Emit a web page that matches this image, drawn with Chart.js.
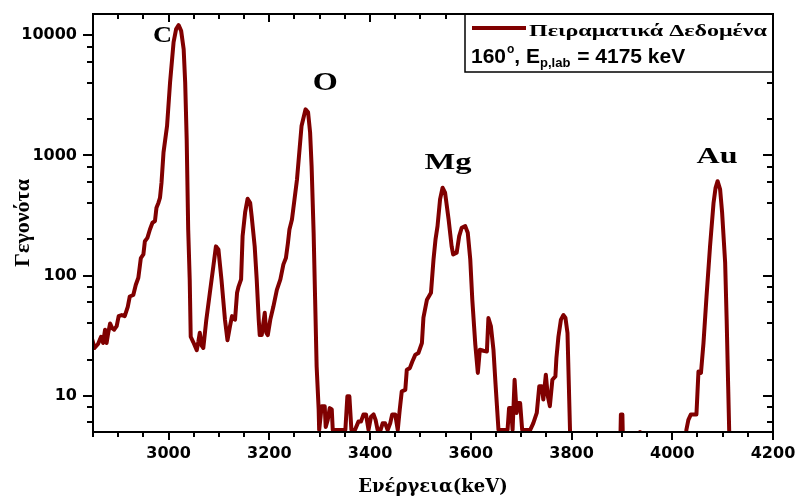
<!DOCTYPE html>
<html>
<head>
<meta charset="utf-8">
<script src="https://cdn.jsdelivr.net/npm/chart.js@4/dist/chart.umd.min.js"></script>
<style>
  body { margin: 0; background: #fff; }
</style>
</head>
<body>
<canvas id="myChart" width="799" height="498"></canvas>
<script>
// spectrum (energy in keV, counts)
const energy = [
  2847, 2853, 2860, 2866, 2870, 2874, 2877, 2880, 2884, 2888, 2892, 2897, 2901, 2907, 2913, 2919,
  2923, 2930, 2935, 2940, 2943, 2945, 2950, 2953, 2958, 2963, 2968, 2973, 2976, 2980, 2983, 2986,
  2990, 2997, 3003, 3010, 3015, 3020, 3025, 3030, 3033, 3036, 3039, 3042, 3044, 3049, 3056, 3059,
  3062, 3066, 3069, 3075, 3082, 3089, 3094, 3099, 3105, 3112, 3117, 3122, 3126, 3132, 3136, 3139,
  3144, 3147, 3152, 3157, 3162, 3165, 3171, 3175, 3179, 3181, 3185, 3191, 3194, 3197, 3202, 3208,
  3215, 3222, 3228, 3233, 3237, 3240, 3245, 3250, 3255, 3264, 3272, 3277, 3281, 3284, 3288, 3291,
  3294, 3298, 3299, 3304, 3310, 3312, 3316, 3320, 3324, 3326, 3337, 3351, 3355, 3359, 3363, 3370,
  3377, 3382, 3387, 3392, 3397, 3402, 3407, 3411, 3415, 3421, 3425, 3430, 3435, 3440, 3444, 3450,
  3455, 3459, 3463, 3470, 3473, 3479, 3484, 3490, 3496, 3503, 3506, 3513, 3521, 3526, 3530, 3534,
  3539, 3544, 3549, 3556, 3562, 3565, 3572, 3577, 3582, 3589, 3594, 3599, 3603, 3609, 3614, 3618,
  3625, 3632, 3635, 3640, 3645, 3649, 3655, 3673, 3676, 3680, 3683, 3687, 3691, 3694, 3698, 3702,
  3718, 3724, 3731, 3736, 3741, 3744, 3749, 3753, 3757, 3762, 3768, 3770, 3774, 3779, 3784, 3788,
  3792, 3797, 3802, 3894, 3898, 3901, 3905, 3930, 3936, 3942, 4022, 4028, 4032, 4037, 4048, 4052,
  4057, 4062, 4068, 4075, 4082, 4086, 4090, 4095, 4099, 4105, 4108, 4111, 4113, 4120, 4200
];
const counts = [
  31, 25, 27, 31, 27.5, 35.5, 27.5, 33, 40, 36.6, 35.5, 38, 46, 47, 46, 55,
  67, 69, 84, 96, 120, 140, 150, 193, 206, 242, 275, 284, 367, 404, 444, 592,
  1059, 1754, 4055, 8750, 11220, 12110, 10860, 7640, 4055, 1359, 242, 93, 31, 28, 24, 28,
  33.5, 26, 25, 43, 72, 120, 175, 165, 93, 43, 29, 38, 46, 43, 72, 81,
  93, 213, 335, 436, 404, 312, 175, 93, 43, 32, 32, 49, 33.5, 32, 43, 55,
  76, 93, 124, 140, 187, 242, 293, 430, 631, 1754, 2416, 2280, 1555, 814, 228, 63,
  17.5, 7.7, 5.2, 8.2, 8.2, 5.5, 6.3, 7.9, 7.7, 5.2, 5.2, 5.2, 9.9, 9.9, 5.2, 5.2,
  6.1, 6.1, 7, 7, 5.2, 6.7, 7, 6.3, 5.2, 5.2, 5.9, 5.9, 5.2, 5.9, 7, 7,
  5.2, 7.7, 10.9, 11.2, 16.5, 17, 19.3, 22, 22.7, 27.5, 44.7, 63, 72, 136, 200, 258,
  430, 538, 489, 293, 175, 150, 155, 213, 250, 258, 227, 136, 63, 26.6, 15.5, 24.2,
  23.7, 23.4, 44.4, 37.8, 24.2, 12.8, 5.2, 5.2, 7.9, 7.9, 5.2, 13.6, 7.2, 8.7, 8.7, 5.2,
  5.2, 5.9, 7.2, 12, 12, 9.3, 15, 9.9, 8.2, 13.6, 14.5, 20.6, 31, 43, 47, 44.4,
  33.3, 5.2, 1, 1, 7, 7, 1, 1, 5, 1, 1, 5.2, 6.3, 7, 7, 15.9,
  15.5, 27.5, 67, 175, 404, 538, 610, 521, 333, 128, 43, 12, 5.2, 1, 1
];

const xTicks = [3000, 3200, 3400, 3600, 3800, 4000, 4200];
const yTicks = [10, 100, 1000, 10000];

// peak names and where they sit (keV, counts)
const peakNames = ['C', 'O', 'Mg', 'Au'];
const peakEnergy = [2988, 3311, 3555, 4089];
const peakCounts = [8750, 3480, 764, 858];

const legendLabel = 'Πειραματικά Δεδομένα';

const red = '#800000';

const points = energy.map((e, i) => ({ x: e, y: counts[i] }));

// text squeezed/stretched horizontally to a given width
function wideText(ctx, text, x, y, width) {
  const w = ctx.measureText(text).width;
  ctx.save();
  ctx.translate(x, y);
  ctx.scale(width / w, 1);
  ctx.fillText(text, 0, 0);
  ctx.restore();
}

// frame, ticks on all four sides, peak names and the legend box
const decorations = {
  id: 'decorations',
  afterDraw(chart) {
    const { ctx, chartArea: a, scales: { x, y } } = chart;
    ctx.save();
    ctx.strokeStyle = '#000';
    ctx.lineWidth = 2;

    const seg = (x1, y1, x2, y2) => {
      ctx.beginPath();
      ctx.moveTo(x1, y1);
      ctx.lineTo(x2, y2);
      ctx.stroke();
    };

    for (let e = 2850; e <= 4200; e += 50) {
      const px = Math.round(x.getPixelForValue(e));
      const len = e % 200 === 0 ? 8 : 5;
      seg(px, a.bottom, px, a.bottom + len);
      seg(px, a.top, px, a.top + len);
    }
    for (let d = 0; d <= 4; d++) {
      [1, 2, 4, 6, 8].forEach(m => {
        const v = m * Math.pow(10, d);
        if (v < y.min || v > y.max) return;
        const py = Math.round(y.getPixelForValue(v));
        const len = m === 1 ? 10 : 6;
        seg(a.left - len, py, a.left, py);
        seg(a.right - len, py, a.right, py);
      });
    }

    // peak names
    ctx.fillStyle = '#000';
    ctx.textAlign = 'left';
    ctx.textBaseline = 'alphabetic';
    const peakWidth = [19, 25, 47, 41];
    peakNames.forEach((name, i) => {
      ctx.font = 'bold ' + (name === 'O' ? 26 : 23) + 'px "Liberation Serif"';
      const cx = x.getPixelForValue(peakEnergy[i]);
      wideText(ctx, name, cx - peakWidth[i] / 2, y.getPixelForValue(peakCounts[i]), peakWidth[i]);
    });

    // legend box
    const bx = 465, by = a.top, bw = a.right - 465, bh = 58;
    ctx.fillStyle = '#fff';
    ctx.fillRect(bx, by, bw, bh);
    ctx.lineWidth = 1.5;
    ctx.strokeRect(bx, by, bw, bh);
    ctx.lineWidth = 2;
    ctx.strokeRect(a.left, a.top, a.right - a.left, a.bottom - a.top);

    ctx.strokeStyle = red;
    ctx.lineWidth = 4;
    seg(472, by + 14, 526, by + 14);

    ctx.fillStyle = '#000';
    ctx.font = 'bold 17px "Liberation Serif"';
    wideText(ctx, legendLabel, 529, by + 22, 238);

    ctx.font = 'bold 21px "Liberation Sans"';
    let tx = 471;
    const base = by + 49;
    ctx.fillText('160', tx, base);
    tx += ctx.measureText('160').width + 1;
    ctx.font = 'bold 12px "Liberation Sans"';
    ctx.fillText('o', tx, base - 10);
    tx += ctx.measureText('o').width;
    ctx.font = 'bold 21px "Liberation Sans"';
    ctx.fillText(', E', tx, base);
    tx += ctx.measureText(', E').width;
    ctx.font = 'bold 13px "Liberation Sans"';
    ctx.fillText('p,lab', tx, base + 4);
    tx += ctx.measureText('p,lab').width + 1;
    ctx.font = 'bold 21px "Liberation Sans"';
    ctx.fillText(' = 4175 keV', tx, base);

    ctx.restore();
  }
};

const myChart = new Chart(document.getElementById('myChart'), {
  type: 'scatter',
  data: {
    datasets: [{
      label: legendLabel,
      data: points,
      showLine: true,
      borderColor: red,
      backgroundColor: red,
      borderWidth: 4,
      borderJoinStyle: 'round',
      pointRadius: 0,
      tension: 0
    }]
  },
  options: {
    responsive: false,
    animation: false,
    layout: { padding: { top: 14, right: 26, left: 0, bottom: 0 } },
    plugins: {
      legend: { display: false },
      tooltip: { enabled: false }
    },
    scales: {
      x: {
        type: 'linear',
        min: 2850,
        max: 4200,
        afterBuildTicks: s => { s.ticks = xTicks.map(v => ({ value: v })); },
        afterFit: s => { s.height = 66; s.paddingLeft = 0; s.paddingRight = 0; },
        grid: { display: false, drawTicks: false },
        border: { display: false },
        ticks: {
          padding: 12,
          color: '#000',
          font: { family: 'DejaVu Sans', size: 16, weight: 'bold' },
          callback: v => String(v)
        },
        title: {
          display: true,
          text: 'Ενέργεια(keV)',
          color: '#000',
          padding: { top: 0, bottom: 0 },
          font: { family: 'DejaVu Serif', size: 18, weight: 'bold' }
        }
      },
      y: {
        type: 'logarithmic',
        min: 5,
        max: 15000,
        afterBuildTicks: s => { s.ticks = yTicks.map(v => ({ value: v })); },
        afterFit: s => { s.width = 93; s.paddingTop = 0; s.paddingBottom = 0; },
        grid: { display: false, drawTicks: false },
        border: { display: false },
        ticks: {
          padding: 16,
          color: '#000',
          font: { family: 'DejaVu Sans', size: 16, weight: 'bold' },
          callback: v => String(v)
        },
        title: {
          display: true,
          text: 'Γεγονότα',
          color: '#000',
          padding: { top: 10, bottom: 0 },
          font: { family: 'Liberation Serif', size: 22, weight: 'bold' }
        }
      }
    }
  },
  plugins: [decorations]
});
</script>
</body>
</html>
